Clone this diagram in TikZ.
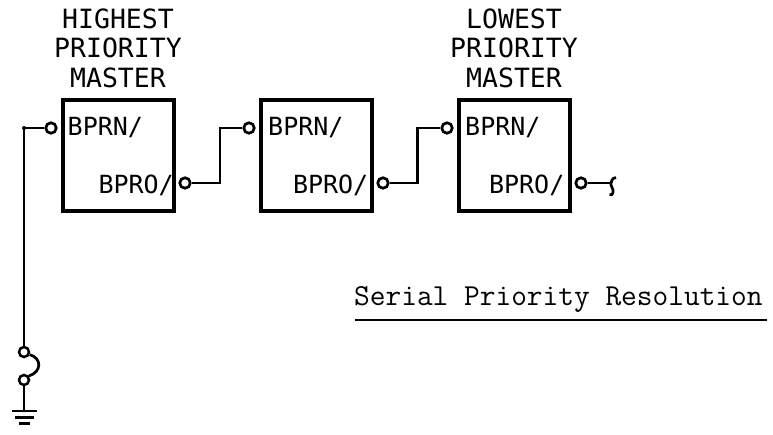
\documentclass[tikz,border=0pt]{standalone}
\usepackage{fontspec}
\newfontfamily\dvmono{DejaVu Sans Mono}
\usetikzlibrary{calc}
\begin{document}
\begin{tikzpicture}[x=1pt,y=-1pt,
  master/.style={draw, line width=4pt, minimum width=111pt, minimum height=111pt, inner sep=0pt},
  bubble/.style={draw, circle, line width=2.7pt, minimum size=10.5pt, inner sep=0pt},
  term/.style={draw, circle, line width=2.5pt, minimum size=10pt, inner sep=0pt},
  wire/.style={line width=2.7pt},
  thinwire/.style={line width=2.1pt},
  lbl/.style={font=\dvmono\fontsize{25}{25}\selectfont, inner sep=0pt},
  ttl/.style={font=\dvmono\fontsize{26.5}{29.5}\selectfont, align=center, inner sep=0pt, anchor=south}]

\useasboundingbox (0,0) rectangle (773,434);

% masters
\node[master] (m1) at (118,155.5) {};
\node[master] (m2) at (316,155.5) {};
\node[master] (m3) at (514,155.5) {};

% titles
\node[ttl] (t1) at (118,88) {HIGHEST\\PRIORITY\\MASTER};
\node[ttl] (t3) at (514,88) {LOWEST\\PRIORITY\\MASTER};

% pin labels
\node[lbl, anchor=base west] (n1) at ($(m1.north west)+(7,37)$) {BPRN/};
\node[lbl, anchor=base west] (n2) at ($(m2.north west)+(9.5,37)$) {BPRN/};
\node[lbl, anchor=base west] (n3) at ($(m3.north west)+(8.5,37)$) {BPRN/};
\node[lbl, anchor=base east] (p1) at ($(m1.north east)+(-1.5,95)$) {BPRO/};
\node[lbl, anchor=base east] (p2) at ($(m2.north east)+(-5,95)$) {BPRO/};
\node[lbl, anchor=base east] (p3) at ($(m3.north east)+(-7,95)$) {BPRO/};

% bubbles
\node[bubble] (i1) at ($(m1.west)+(-9.5,-27.5)$) {};
\node[bubble] (i2) at ($(m2.west)+(-9.5,-27.5)$) {};
\node[bubble] (i3) at ($(m3.west)+(-9.5,-27.5)$) {};
\node[bubble] (o1) at ($(m1.east)+(9.5,27.5)$) {};
\node[bubble] (o2) at ($(m2.east)+(9.5,27.5)$) {};
\node[bubble] (o3) at ($(m3.east)+(9.5,27.5)$) {};

% daisy chain
\draw[wire] (o1.east) -- ++(28.5,0) |- (i2.west);
\draw[wire] (o2.east) -- ++(28,0) |- (i3.west);
\coordinate (e0) at (611,183);
\draw[wire] (o3.east) -- (e0);
\draw[wire] (616,177.5) .. controls (611,178) and (612,182) .. (e0)
  .. controls (610,186) and (614,189) .. (613,192) .. controls (612.5,195) and (611,195.5) .. (609.5,194.5);

% grounding strap
\coordinate (c0) at (24,128);
\node[term] (s1) at (24,352) {};
\node[term] (s2) at (24,380) {};
\coordinate (g) at (24,411);
\draw[wire] (i1.west) -- (c0);
\fill (c0) circle (2pt);
\draw[thinwire] (c0) -- (s1.north);
\draw[wire] (s1.-25) .. controls (42,358) and (42,372) .. (s2.40);
\draw[wire] (s2.south) -- (g);
\draw[line width=2.7pt] ($(g)+(-12,0)$) -- ($(g)+(13,0)$);
\draw[line width=2.7pt] ($(g)+(-9,6.5)$) -- ($(g)+(10,6.5)$);
\draw[line width=2.7pt] ($(g)+(-5,12.5)$) -- ($(g)+(6,12.5)$);

% caption
\node[font=\ttfamily\fontsize{30.5}{30.5}\selectfont, inner sep=0pt, anchor=base west] (cap) at (354,305) {Serial Priority Resolution};
\draw[line width=2.6pt] ($(cap.base west)+(1,15)$) -- ($(cap.base east)+(4,15)$);
\end{tikzpicture}
\end{document}
